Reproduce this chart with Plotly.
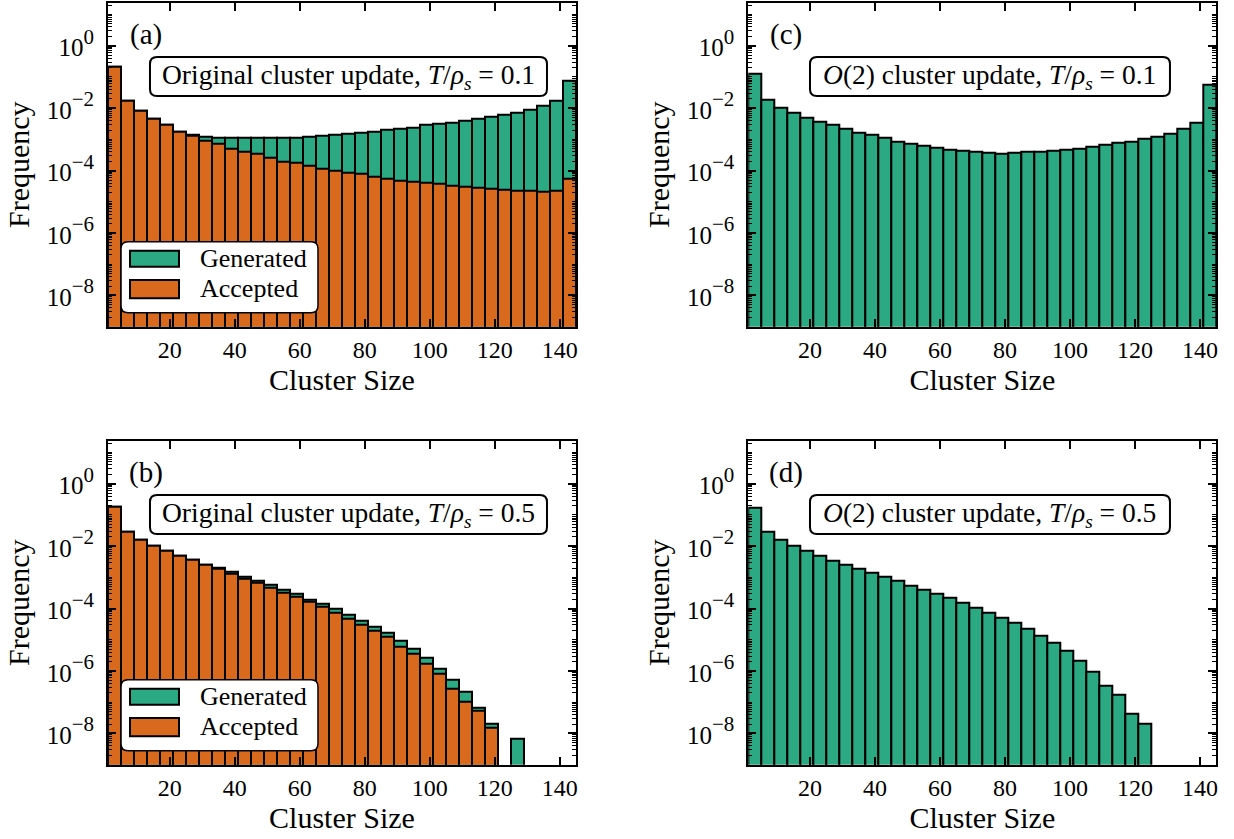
import plotly.graph_objects as go

# ---------------- data ----------------
bin_edges = list(range(1, 146, 4))  # 36 bins of width 4, cluster sizes 1..144
bin_centers = [(a + b) / 2 for a, b in zip(bin_edges[:-1], bin_edges[1:])]

x_ticks = [20, 40, 60, 80, 100, 120, 140]
y_tick_vals = [1e0, 1e-2, 1e-4, 1e-6, 1e-8]
y_tick_exps = ["0", "−2", "−4", "−6", "−8"]

# (a) original cluster update, T/rho_s = 0.1
gen_a = [2.1e-1, 1.8e-2, 8.1e-3, 4.7e-3, 2.9e-3, 1.8e-3, 1.4e-3, 1.26e-3, 1.17e-3, 1.12e-3,
         1.10e-3, 1.10e-3, 1.12e-3, 1.15e-3, 1.17e-3, 1.20e-3, 1.32e-3, 1.38e-3, 1.48e-3, 1.62e-3,
         1.74e-3, 2.0e-3, 2.2e-3, 2.45e-3, 2.9e-3, 3.1e-3, 3.4e-3, 3.9e-3, 4.5e-3, 5.2e-3,
         6.0e-3, 7.1e-3, 8.7e-3, 1.17e-2, 1.7e-2, 7.6e-2]
acc_a = [2.1e-1, 1.8e-2, 8.1e-3, 4.7e-3, 2.9e-3, 1.8e-3, 1.35e-3, 9.1e-4, 7.1e-4, 5.1e-4,
         4.0e-4, 3.4e-4, 2.6e-4, 2.0e-4, 1.78e-4, 1.48e-4, 1.17e-4, 9.8e-5, 8.7e-5, 7.8e-5,
         6.6e-5, 5.6e-5, 4.9e-5, 4.3e-5, 4.1e-5, 3.9e-5, 3.4e-5, 3.0e-5, 2.8e-5, 2.6e-5,
         2.5e-5, 2.2e-5, 2.2e-5, 2.1e-5, 2.2e-5, 5.6e-5]

# (b) original cluster update, T/rho_s = 0.5
gen_b = [1.78e-1, 2.95e-2, 1.66e-2, 1.07e-2, 7.4e-3, 5.1e-3, 3.6e-3, 2.6e-3, 2.0e-3, 1.48e-3,
         1.07e-3, 7.9e-4, 5.8e-4, 4.0e-4, 2.95e-4, 2.0e-4, 1.48e-4, 1.0e-4, 6.6e-5, 4.1e-5,
         2.6e-5, 1.7e-5, 9.3e-6, 5.1e-6, 2.6e-6, 1.23e-6, 5.1e-7, 2.2e-7, 6.5e-8, 2.1e-8,
         None, 6.9e-9, None, None, None, None]
acc_b = [1.78e-1, 2.95e-2, 1.66e-2, 1.07e-2, 7.4e-3, 5.1e-3, 3.6e-3, 2.55e-3, 1.95e-3, 1.29e-3,
         9.1e-4, 6.6e-4, 4.7e-4, 3.2e-4, 2.45e-4, 1.66e-4, 1.15e-4, 7.4e-5, 4.9e-5, 3.1e-5,
         1.9e-5, 1.23e-5, 6.0e-6, 3.7e-6, 1.78e-6, 8.5e-7, 2.75e-7, 1.05e-7, 5.4e-8, 1.55e-8,
         None, None, None, None, None, None]

# (c) O(2) cluster update, T/rho_s = 0.1
gen_c = [1.23e-1, 1.9e-2, 1.05e-2, 7.1e-3, 5.0e-3, 3.7e-3, 2.9e-3, 2.2e-3, 1.7e-3, 1.38e-3,
         1.12e-3, 8.7e-4, 7.4e-4, 6.2e-4, 5.4e-4, 4.7e-4, 4.2e-4, 3.9e-4, 3.7e-4, 3.6e-4,
         3.7e-4, 3.9e-4, 4.1e-4, 4.4e-4, 4.8e-4, 5.2e-4, 5.9e-4, 6.8e-4, 7.6e-4, 8.5e-4,
         1.05e-3, 1.26e-3, 1.58e-3, 2.2e-3, 3.5e-3, 5.6e-2]

# (d) O(2) cluster update, T/rho_s = 0.5
gen_d = [1.7e-1, 3.0e-2, 1.66e-2, 1.07e-2, 7.4e-3, 5.1e-3, 3.5e-3, 2.55e-3, 1.95e-3, 1.45e-3,
         1.07e-3, 7.6e-4, 5.6e-4, 4.0e-4, 2.95e-4, 2.2e-4, 1.55e-4, 1.1e-4, 7.4e-5, 5.1e-5,
         3.5e-5, 2.2e-5, 1.35e-5, 8.3e-6, 4.4e-6, 2.2e-6, 9.3e-7, 3.5e-7, 1.78e-7, 4.2e-8,
         2.1e-8, None, None, None, None, None]

panel_labels = ["(a)", "(b)", "(c)", "(d)"]
box_texts = [
    "Original cluster update, <i>T</i>/<i>ρ</i><sub><i>s</i></sub> = 0.1",
    "Original cluster update, <i>T</i>/<i>ρ</i><sub><i>s</i></sub> = 0.5",
    "<i>O</i>(2) cluster update, <i>T</i>/<i>ρ</i><sub><i>s</i></sub> = 0.1",
    "<i>O</i>(2) cluster update, <i>T</i>/<i>ρ</i><sub><i>s</i></sub> = 0.5",
]
legend_names = ["Generated", "Accepted"]

# ---------------- style ----------------
GREEN = "#2aa983"
ORANGE = "#d96a1d"
FONT = "Liberation Serif"
W, H = 1234, 839

y_tick_text = [f"<span style='font-size:25px'>10</span><sup>{e}</sup>" for e in y_tick_exps]

minor_vals = []
for e in range(-10, 2):
    for k in range(1, 10):
        if k == 1 and e % 2 == 0:
            continue
        minor_vals.append(k * 10.0 ** e)

# panel pixel boxes (left, right, top, bottom)
panels = {
    "a": (108, 576, 2.7, 326.7),
    "b": (108, 576, 440.7, 764.7),
    "c": (748.3, 1216.3, 2.7, 326.7),
    "d": (748.3, 1216.3, 440.7, 764.7),
}

fig = go.Figure()

def add_bar(y, color, name, ax):
    fig.add_trace(go.Bar(
        x=bin_centers, y=y, width=4, name=name,
        marker=dict(color=color, line=dict(color="black", width=2)),
        xaxis="x" + ax, yaxis="y" + ax, showlegend=False,
    ))

add_bar(gen_a, GREEN, "Generated", "")
add_bar(acc_a, ORANGE, "Accepted", "")
add_bar(gen_b, GREEN, "Generated", "2")
add_bar(acc_b, ORANGE, "Accepted", "2")
add_bar(gen_c, GREEN, "Generated", "3")
add_bar(gen_d, GREEN, "Generated", "4")

layout = dict(
    width=W, height=H, margin=dict(l=0, r=0, t=0, b=0),
    paper_bgcolor="white", plot_bgcolor="white",
    barmode="overlay", bargap=0,
    font=dict(family=FONT, color="black", size=22),
    shapes=[], annotations=[],
)

axis_ids = ["", "2", "3", "4"]
keys = ["a", "b", "c", "d"]
for i, (aid, key) in enumerate(zip(axis_ids, keys)):
    l, r, t, b = panels[key]
    xdom = [l / W, r / W]
    ydom = [1 - b / H, 1 - t / H]
    layout["xaxis" + aid] = dict(
        domain=xdom, anchor="y" + aid, range=[1, 145],
        tickmode="array", tickvals=x_ticks,
        ticks="inside", ticklen=8, tickwidth=1.5, tickcolor="black",
        showline=True, linewidth=2, linecolor="black", mirror="allticks",
        showgrid=False, zeroline=False, automargin=False,
        tickfont=dict(family=FONT, size=24, color="black"),
        title=dict(text="Cluster Size", font=dict(family=FONT, size=30, color="black"), standoff=6),
    )
    layout["yaxis" + aid] = dict(
        domain=ydom, anchor="x" + aid, type="log", range=[-9.0, 1.38],
        tickmode="array", tickvals=y_tick_vals, ticktext=y_tick_text,
        ticks="inside", ticklen=8, tickwidth=1.5, tickcolor="black",
        ticklabelstandoff=6,
        minor=dict(tickmode="array", tickvals=minor_vals, ticks="inside", ticklen=4,
                   tickwidth=1, tickcolor="black", showgrid=False),
        showline=True, linewidth=2, linecolor="black", mirror="allticks",
        showgrid=False, zeroline=False, automargin=False,
        tickfont=dict(family=FONT, size=30, color="black"),
        title=dict(text="Frequency", font=dict(family=FONT, size=30, color="black"), standoff=8),
    )
    pw, ph = r - l, b - t
    xr, yr = "x" + aid + " domain", "y" + aid + " domain"

    def rrect(x0, x1, y0, y1, rad=7, fill="white", lw=2):
        rx, ry = rad / pw, rad / ph
        p = (f"M {x0+rx},{y0} L {x1-rx},{y0} Q {x1},{y0} {x1},{y0+ry} "
             f"L {x1},{y1-ry} Q {x1},{y1} {x1-rx},{y1} L {x0+rx},{y1} "
             f"Q {x0},{y1} {x0},{y1-ry} L {x0},{y0+ry} Q {x0},{y0} {x0+rx},{y0} Z")
        return dict(type="path", path=p, xref=xr, yref=yr, fillcolor=fill,
                    line=dict(color="black", width=lw), layer="above")

    # panel label
    layout["annotations"].append(dict(
        text=panel_labels[i], xref=xr, yref=yr, x=0.081, y=0.903,
        showarrow=False, font=dict(family=FONT, size=29, color="black"),
        xanchor="center", yanchor="middle"))
    # title box
    if key in ("a", "b"):
        bx0, bx1 = 0.0897, 0.938
        cx = 0.514
    else:
        bx0, bx1 = 0.1318, 0.901
        cx = 0.5164
    layout["shapes"].append(rrect(bx0, bx1, 0.712, 0.8324))
    layout["annotations"].append(dict(
        text=box_texts[i], xref=xr, yref=yr, x=cx, y=0.7722,
        showarrow=False, font=dict(family=FONT, size=27.5, color="black"),
        xanchor="center", yanchor="middle"))
    # legend
    if key in ("a", "b"):
        layout["shapes"].append(rrect(0.0278, 0.4487, 0.0432, 0.2623, rad=7, lw=1.5))
        for (py0, py1, col, nm, ty) in [(0.1852, 0.2346, GREEN, legend_names[0], 0.2099),
                                         (0.0877, 0.1441, ORANGE, legend_names[1], 0.1164)]:
            layout["shapes"].append(dict(type="rect", xref=xr, yref=yr, x0=0.047, x1=0.1517,
                                         y0=py0, y1=py1, fillcolor=col,
                                         line=dict(color="black", width=2), layer="above"))
            layout["annotations"].append(dict(
                text=nm, xref=xr, yref=yr, x=0.1923, y=ty, showarrow=False,
                font=dict(family=FONT, size=26, color="black"),
                xanchor="left", yanchor="middle"))

fig.update_layout(**layout)
fig.write_html("out.html", config={"displayModeBar": False},
               post_script="document.body.style.margin='0';document.body.style.padding='0';")
